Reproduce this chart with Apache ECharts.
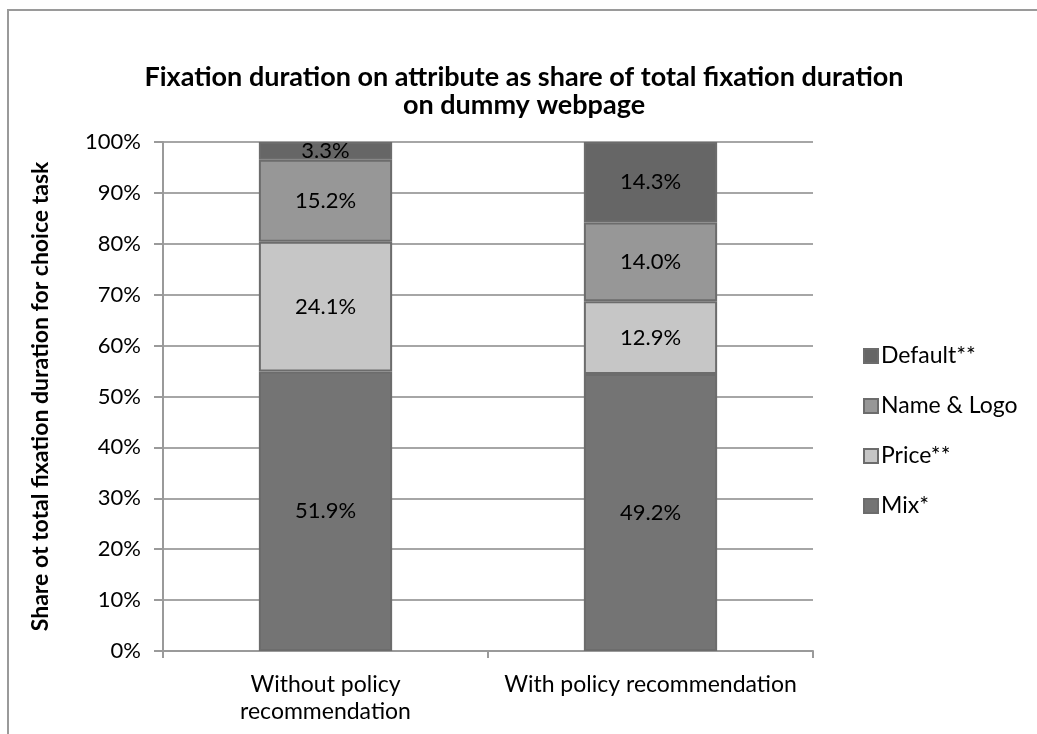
<!DOCTYPE html>
<html>
<head>
<meta charset="utf-8">
<script src="https://cdn.jsdelivr.net/npm/echarts@6/dist/echarts.min.js"></script>
<style>
  html, body { margin: 0; padding: 0; background: #fff; }
  #chart { width: 1037px; height: 734px; }
</style>
</head>
<body>
<div id="chart"></div>
<script>
// Fixation duration per attribute (percent of total fixation duration)
const categories = ['Without policy\nrecommendation', 'With policy recommendation'];
const mix      = [51.9, 49.2];
const price    = [24.1, 12.9];
const nameLogo = [15.2, 14.0];
const defaults = [3.3, 14.3];
const yTicks   = ['0%', '10%', '20%', '30%', '40%', '50%', '60%', '70%', '80%', '90%', '100%'];

// Bars are stacked to 100%: each segment is its share of the column total
const raw = [mix, price, nameLogo, defaults];
const totals = categories.map((_, i) => raw.reduce((s, arr) => s + arr[i], 0));
const share = arr => arr.map((v, i) => v / totals[i] * 100);

const FONT = 'Lato';
const seriesDefs = [
  { name: 'Mix*',        values: mix,      color: '#747474' },
  { name: 'Price**',     values: price,    color: '#c6c6c6' },
  { name: 'Name & Logo', values: nameLogo, color: '#979797' },
  { name: 'Default**',   values: defaults, color: '#666666' }
];

const chart = echarts.init(document.getElementById('chart'), null, { renderer: 'canvas' });

chart.setOption({
  animation: false,
  backgroundColor: '#ffffff',
  textStyle: { fontFamily: FONT },
  title: {
    text: 'Fixation duration on attribute as share of total fixation duration\non dummy webpage',
    top: 58,
    left: 519,
    textAlign: 'center',
    textStyle: { fontFamily: FONT, fontSize: 27, fontWeight: 'bold', color: '#000', lineHeight: 28 }
  },
  graphic: [{
    type: 'rect',
    shape: { x: 8, y: 10, width: 1100, height: 800 },
    style: { fill: 'none', stroke: '#9a9a9a', lineWidth: 2 },
    silent: true
  }],
  legend: {
    orient: 'vertical',
    left: 858,
    top: 339,
    itemWidth: 14,
    itemHeight: 14,
    itemGap: 26,
    icon: 'rect',
    data: ['Default**', 'Name & Logo', 'Price**', 'Mix*'],
    textStyle: { fontFamily: FONT, fontSize: 23, lineHeight: 24, color: '#000', padding: [0, 0, 0, -2] }
  },
  grid: { left: 163, right: 224, top: 142, bottom: 83 },
  xAxis: {
    type: 'category',
    data: categories,
    boundaryGap: true,
    axisLine: { lineStyle: { color: '#9a9a9a', width: 2 } },
    axisTick: { show: true, length: 7, lineStyle: { color: '#9a9a9a', width: 2 } },
    axisLabel: {
      fontFamily: FONT, fontSize: 23, color: '#000', margin: 20, lineHeight: 27,
      interval: 0, hideOverlap: false
    }
  },
  yAxis: {
    type: 'value',
    min: 0,
    max: 100,
    interval: 10,
    name: 'Share ot total fixation duration for choice task',
    nameLocation: 'middle',
    nameGap: 111,
    nameTextStyle: { fontFamily: FONT, fontSize: 23, fontWeight: 'bold', color: '#000' },
    axisLine: { show: true, lineStyle: { color: '#9a9a9a', width: 2 } },
    axisTick: { show: true, length: 9, lineStyle: { color: '#9a9a9a', width: 2 } },
    splitLine: { lineStyle: { color: '#a6a6a6', width: 2 } },
    axisLabel: {
      fontFamily: FONT, fontSize: 22, color: '#000', margin: 22,
      formatter: v => yTicks[Math.round(v / 10)]
    }
  },
  series: seriesDefs.map(d => ({
    name: d.name,
    type: 'bar',
    stack: 'total',
    barWidth: '41%',
    data: share(d.values),
    itemStyle: { color: d.color, borderColor: '#6c6c6c', borderWidth: 2 },
    label: {
      show: true,
      position: 'inside',
      fontFamily: FONT,
      fontSize: 22,
      color: '#000',
      formatter: p => d.values[p.dataIndex].toFixed(1) + '%'
    }
  }))
});
</script>
</body>
</html>
